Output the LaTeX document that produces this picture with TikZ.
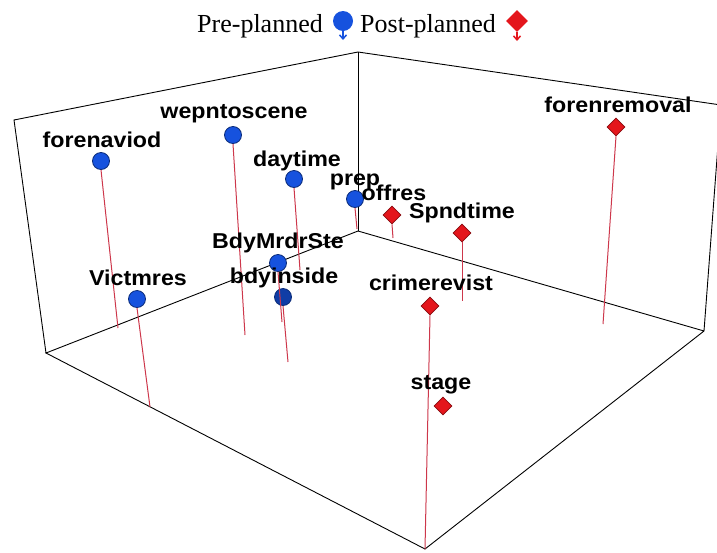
\documentclass[tikz,border=0pt]{standalone}
\usepackage{fontspec}
\setmainfont{Liberation Serif}
\newfontfamily\labelfont[FakeStretch=1.08]{Liberation Sans Bold}
\usetikzlibrary{shapes.geometric,arrows.meta}
\definecolor{preblue}{RGB}{22,82,222}
\definecolor{postred}{RGB}{228,22,28}
\definecolor{stemred}{RGB}{205,55,75}

\begin{document}
\begin{tikzpicture}[
    x=1pt, y=-1pt,
    preball/.style={circle, fill=preblue, draw=preblue!55!black, line width=0.8pt, minimum size=17pt, inner sep=0pt},
    postgem/.style={diamond, fill=postred, draw=postred!60!black, line width=0.6pt, minimum size=18pt, inner sep=0pt},
    tag/.style={font=\labelfont\fontsize{21.5}{24}\selectfont, anchor=base, inner sep=0pt},
    stem/.style={stemred, line width=1pt},
    frame/.style={black, line width=0.9pt},
    keyarrow/.style={-{Straight Barb[length=4pt,width=7pt]}, line width=1.5pt}
]
    \useasboundingbox (0,0) rectangle (717,552);

    % 图例
    \node[font=\fontsize{26}{30}\selectfont, anchor=base west, inner sep=0pt] (pretext) at (197,32) {Pre-planned};
    \node[circle, fill=preblue, minimum size=20pt, inner sep=0pt] (prekey) at (343,21) {};
    \coordinate (prekeytip) at (343,40);
    \node[font=\fontsize{26}{30}\selectfont, anchor=base west, inner sep=0pt] (posttext) at (360,32) {Post-planned};
    \node[diamond, fill=postred, minimum size=22pt, inner sep=0pt] (postkey) at (517,21) {};
    \coordinate (postkeytip) at (517,41);
    \draw[keyarrow, preblue] (prekey.south) -- (prekeytip);
    \draw[keyarrow, postred] (postkey.south) -- (postkeytip);

    % 坐标框
    \coordinate (tl) at (14,120);
    \coordinate (tb) at (358,52);
    \coordinate (tr) at (721,105);
    \coordinate (bl) at (46,353);
    \coordinate (bb) at (358,231);
    \coordinate (bf) at (425,549);
    \coordinate (br) at (704,331);
    \draw[frame] (bl) -- (tl) -- (tb) -- (tr) -- (br) -- (bf) -- (bl) -- (bb) -- (br);
    \draw[frame] (tb) -- (bb);

    % 球点
    \node[preball] (forenaviod) at (101,161) {};
    \node[preball] (wepntoscene) at (233,135) {};
    \node[preball] (daytime) at (294,179) {};
    \node[preball] (prep) at (355,199) {};
    \node[preball] (BdyMrdrSte) at (278,263) {};
    \node[preball, fill=preblue!75!black] (bdyinside) at (283,297) {};
    \node[preball] (Victmres) at (137,299) {};

    % 菱形点
    \node[postgem] (offres) at (392,215) {};
    \node[postgem] (Spndtime) at (462,233) {};
    \node[postgem] (forenremoval) at (616,127) {};
    \node[postgem] (crimerevist) at (430,306) {};
    \node[postgem] (stage) at (443,406) {};

    % 垂线
    \coordinate (forenaviodfoot) at (118,328);
    \coordinate (wepntoscenefoot) at (245,335);
    \coordinate (daytimefoot) at (300,270);
    \coordinate (prepfoot) at (357,229);
    \coordinate (BdyMrdrStefoot) at (282,322);
    \coordinate (bdyinsidefoot) at (288,362);
    \coordinate (Victmresfoot) at (150,407);
    \coordinate (offresfoot) at (393,238);
    \coordinate (Spndtimefoot) at (462,301);
    \coordinate (forenremovalfoot) at (603,324);
    \draw[stem] (forenaviod.south) -- (forenaviodfoot);
    \draw[stem] (wepntoscene.south) -- (wepntoscenefoot);
    \draw[stem] (daytime.south) -- (daytimefoot);
    \draw[stem] (prep.south) -- (prepfoot);
    \draw[stem] (BdyMrdrSte.south) -- (BdyMrdrStefoot);
    \draw[stem] (bdyinside.south) -- (bdyinsidefoot);
    \draw[stem] (Victmres.south) -- (Victmresfoot);
    \draw[stem] (offres.south) -- (offresfoot);
    \draw[stem] (Spndtime.south) -- (Spndtimefoot);
    \draw[stem] (forenremoval.south) -- (forenremovalfoot);
    \draw[stem] (crimerevist.south) -- (bf);

    % 标签
    \node[tag] (forenaviodtag) at (102,147) {forenaviod};
    \node[tag] (wepntoscenetag) at (234,118) {wepntoscene};
    \node[tag] (daytimetag) at (297,166) {daytime};
    \node[tag] (preptag) at (355,185) {prep};
    \node[tag] (BdyMrdrStetag) at (278,248) {BdyMrdrSte};
    \node[tag] (bdyinsidetag) at (284,283) {bdyinside};
    \node[tag] (Victmrestag) at (138,285) {Victmres};
    \node[tag] (offrestag) at (394,200) {offres};
    \node[tag] (Spndtimetag) at (462,218) {Spndtime};
    \node[tag] (forenremovaltag) at (618,112) {forenremoval};
    \node[tag] (crimerevisttag) at (431,290) {crimerevist};
    \node[tag] (stagetag) at (441,389) {stage};
\end{tikzpicture}
\end{document}
